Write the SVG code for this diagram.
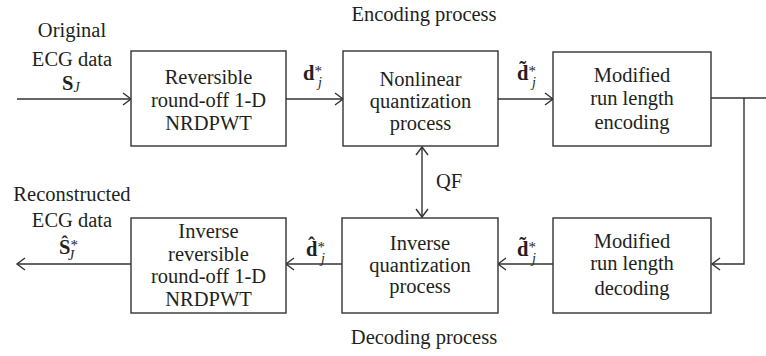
<svg xmlns="http://www.w3.org/2000/svg" width="766" height="356" viewBox="0 0 766 356">
<style>
text{font-family:"Liberation Serif","Times New Roman",serif;font-size:20.5px;fill:#231f20}
.c{text-anchor:middle}
.b{font-weight:bold}
.sm{font-size:14px}
.st{font-size:15px}
.it{font-style:italic}
.box{fill:#fff;stroke:#333;stroke-width:1.4}
.ln{fill:none;stroke:#333;stroke-width:1.4}
</style>
<defs>
<marker id="ah" markerUnits="userSpaceOnUse" markerWidth="12" markerHeight="14" refX="10" refY="7" orient="auto-start-reverse">
<path d="M2,1 L10,7 L2,13" fill="none" stroke="#333" stroke-width="1.4"/>
</marker>
</defs>
<g id="connectors">
<path class="ln" d="M17,99 H131" marker-end="url(#ah)"/>
<path class="ln" d="M286,99 H343" marker-end="url(#ah)"/>
<path class="ln" d="M498,99 H553" marker-end="url(#ah)"/>
<path class="ln" d="M711,98 H766"/>
<path class="ln" d="M744,98 V264 H712" marker-end="url(#ah)"/>
<path class="ln" d="M553,264 H498" marker-end="url(#ah)"/>
<path class="ln" d="M342,264 H286" marker-end="url(#ah)"/>
<path class="ln" d="M131,264 H17" marker-end="url(#ah)"/>
<path class="ln" d="M422,147 V217" marker-start="url(#ah)" marker-end="url(#ah)"/>
</g>
<g id="labels">
<text class="c" x="424" y="21">Encoding process</text>
<text class="c" x="424" y="344">Decoding process</text>
<text class="c" x="72" y="37">Original</text>
<text class="c" x="72" y="66">ECG data</text>
<text x="62" y="90"><tspan class="b">S</tspan><tspan class="sm it" dy="2">J</tspan></text>
<text class="c" x="72" y="201">Reconstructed</text>
<text class="c" x="72" y="227">ECG data</text>
<text x="59" y="254"><tspan class="b">Ŝ</tspan><tspan class="st" dy="-4">*</tspan><tspan class="sm it" x="68" dy="10">J</tspan></text>
<text x="436" y="188">QF</text>
<text x="303" y="80"><tspan class="b">d</tspan><tspan class="st" dy="-4">*</tspan><tspan class="sm it" x="318" dy="11">j</tspan></text>
<text x="517" y="80"><tspan class="b">d̃</tspan><tspan class="st" dy="-4">*</tspan><tspan class="sm it" x="532" dy="11">j</tspan></text>
<text x="306" y="256"><tspan class="b">d̂</tspan><tspan class="st" dy="-4">*</tspan><tspan class="sm it" x="321" dy="11">j</tspan></text>
<text x="517" y="256"><tspan class="b">d̃</tspan><tspan class="st" dy="-4">*</tspan><tspan class="sm it" x="532" dy="11">j</tspan></text>
</g>
<g id="n1">
<rect class="box" x="131" y="51" width="155" height="95"/>
<text class="c" x="208.5" y="84">Reversible</text>
<text class="c" x="208.5" y="107">round-off 1-D</text>
<text class="c" x="208.5" y="130">NRDPWT</text>
</g>
<g id="n2">
<rect class="box" x="343" y="51" width="155" height="95"/>
<text class="c" x="420.5" y="86">Nonlinear</text>
<text class="c" x="420.5" y="108">quantization</text>
<text class="c" x="420.5" y="130">process</text>
</g>
<g id="n3">
<rect class="box" x="553" y="52" width="158" height="94"/>
<text class="c" x="632" y="82">Modified</text>
<text class="c" x="632" y="105">run length</text>
<text class="c" x="632" y="129">encoding</text>
</g>
<g id="n4">
<rect class="box" x="131" y="218" width="155" height="95"/>
<text class="c" x="208.5" y="238">Inverse</text>
<text class="c" x="208.5" y="261">reversible</text>
<text class="c" x="208.5" y="283">round-off 1-D</text>
<text class="c" x="208.5" y="306">NRDPWT</text>
</g>
<g id="n5">
<rect class="box" x="342" y="218" width="156" height="95"/>
<text class="c" x="420" y="250">Inverse</text>
<text class="c" x="420" y="272">quantization</text>
<text class="c" x="420" y="293">process</text>
</g>
<g id="n6">
<rect class="box" x="553" y="218" width="158" height="95"/>
<text class="c" x="632" y="248">Modified</text>
<text class="c" x="632" y="270">run length</text>
<text class="c" x="632" y="295">decoding</text>
</g>
</svg>
